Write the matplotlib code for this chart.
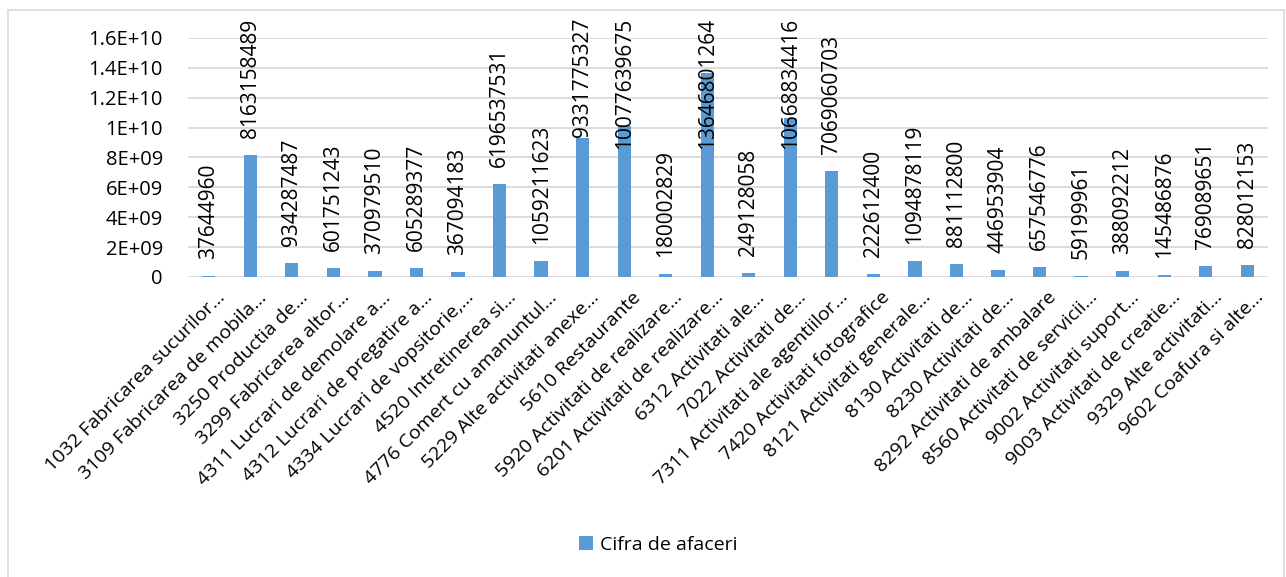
import matplotlib
matplotlib.use("Agg")
import matplotlib.pyplot as plt
from matplotlib.patches import Rectangle
from matplotlib.ticker import FuncFormatter
from matplotlib.transforms import ScaledTranslation

categories = [
    "1032 Fabricarea sucurilor…", "3109 Fabricarea de mobila…", "3250 Productia de…",
    "3299 Fabricarea altor…", "4311 Lucrari de demolare a…", "4312 Lucrari de pregatire a…",
    "4334 Lucrari de vopsitorie,…", "4520 Intretinerea si…", "4776 Comert cu amanuntul…",
    "5229 Alte activitati anexe…", "5610 Restaurante", "5920 Activitati de realizare…",
    "6201 Activitati de realizare…", "6312 Activitati ale…", "7022 Activitati de…",
    "7311 Activitati ale agentiilor…", "7420 Activitati fotografice", "8121 Activitati generale…",
    "8130 Activitati de…", "8230 Activitati de…", "8292 Activitati de ambalare",
    "8560 Activitati de servicii…", "9002 Activitati suport…", "9003 Activitati de creatie…",
    "9329 Alte activitati…", "9602 Coafura si alte…",
]
values = [
    37644960, 8163158489, 934287487, 601751243, 370979510, 605289377, 367094183,
    6196537531, 1059211623, 9331775327, 10077639675, 180002829, 13646801264,
    249128058, 10668834416, 7069060703, 222612400, 1094878119, 881112800,
    446953904, 657546776, 59199961, 388092212, 145486876, 769089651, 828012153,
]
series_name = "Cifra de afaceri"

plt.rcParams['font.family'] = ['Open Sans', 'DejaVu Sans']

W, H = 1286, 577
fig = plt.figure(figsize=(W / 100, H / 100), dpi=100)
ax = fig.add_axes([188 / W, 1 - 277 / H, 1080 / W, 239 / H])


def excel_fmt(v, pos):
    # excel "General" style scientific labels
    if v == 0:
        return "0"
    s = "{:.1E}".format(v)
    mant, exp = s.split("E")
    if mant.endswith(".0"):
        mant = mant[:-2]
    return mant + "E" + exp


xs = list(range(len(categories)))
ax.bar(xs, values, width=0.32, color='#5B9BD5', zorder=3, label=series_name)
ax.set_xlim(-0.5, len(categories) - 0.5)
ax.set_ylim(0, 1.6e10)
ax.set_yticks([i * 2e9 for i in range(9)])
ax.yaxis.set_major_formatter(FuncFormatter(excel_fmt))
ax.grid(axis='y', color='#D9D9D9', linewidth=1.3, zorder=0)
for s in ax.spines.values():
    s.set_visible(False)
ax.tick_params(axis='y', length=0, pad=18, labelsize=14.5, labelcolor='#000000')
ax.tick_params(axis='x', length=0, pad=6)
ax.set_xticks(xs)
ax.set_xticklabels(categories, rotation=45, ha='right', va='top',
                   rotation_mode='anchor', fontsize=14)
# excel puts the end of the rotated label a bit right of the bar
shift = ScaledTranslation(0.07, -0.03, fig.dpi_scale_trans)
for lbl in ax.get_xticklabels():
    lbl.set_transform(lbl.get_transform() + shift)

# data labels, vertical, kept inside the chart area like excel does
labels = []
for x, v in zip(xs, values):
    t = ax.annotate(str(v), xy=(x, v), xytext=(0, 17), textcoords='offset pixels',
                    rotation=90, ha='center', va='bottom', fontsize=15,
                    annotation_clip=False, zorder=4)
    labels.append(t)

fig.canvas.draw()
r = fig.canvas.get_renderer()
top_limit = H - 18
for t in labels:
    bb = t.get_window_extent(r)
    if bb.y1 > top_limit:
        t.xyann = (0, 17 - (bb.y1 - top_limit))

fig.legend(loc='center', bbox_to_anchor=(0.512, 1 - 545 / H), frameon=False,
           handlelength=0.7, handleheight=0.7, handletextpad=0.4, fontsize=14)

fig.patches.append(Rectangle((8 / W, -0.01), (W - 10) / W, 1 - 10 / H + 0.01,
                             transform=fig.transFigure, fill=False,
                             edgecolor='#D9D9D9', linewidth=1.2))

fig.savefig("out.png", dpi=100)
